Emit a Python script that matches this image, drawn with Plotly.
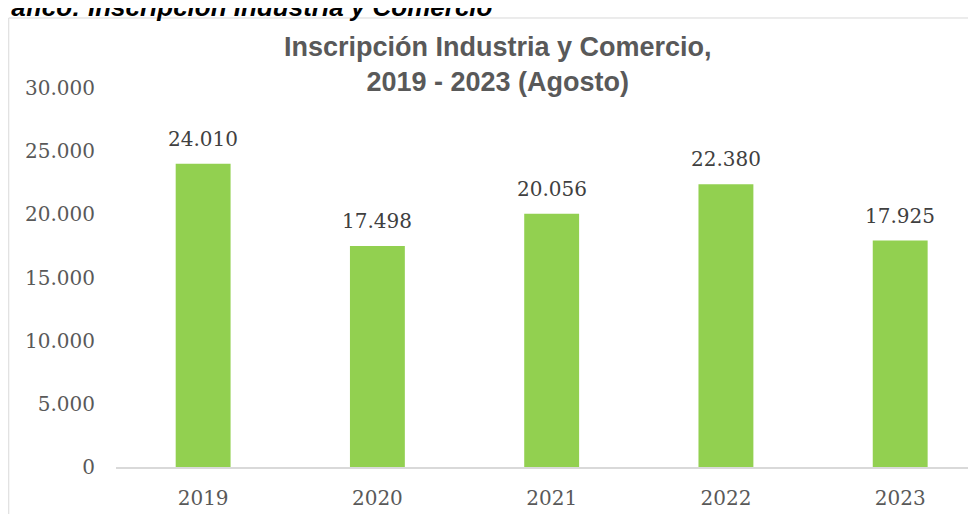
import plotly.graph_objects as go

years = ["2019", "2020", "2021", "2022", "2023"]
inscripciones = [24010, 17498, 20056, 22380, 17925]
y_ticks = [0, 5000, 10000, 15000, 20000, 25000, 30000]

fig = go.Figure()

fig.add_trace(go.Bar(
    x=years, y=inscripciones,
    marker=dict(color="#92D050", line=dict(width=0)),
    width=0.315,
    hoverinfo="skip",
))

# data labels above the bars (category index, so "2019" is not read as a number)
for i, val in enumerate(inscripciones):
    fig.add_annotation(
        x=i, y=val, xref="x", yref="y",
        text=f"{val:,}".replace(",", "."),
        showarrow=False, yanchor="bottom", yshift=11,
        font=dict(family="DejaVu Serif", size=20, color="#404040"),
    )

# caption above the chart box (cut off at the top of the picture)
fig.add_annotation(
    xref="paper", yref="paper", x=0.4407, y=1.170,
    xanchor="right", yanchor="bottom",
    text="<b><i>Gráfico: Inscripción Industria y Comercio</i></b>",
    showarrow=False,
    font=dict(family="Liberation Sans", size=26, color="#000000"),
)

# chart area border
fig.add_shape(
    type="rect", xref="paper", yref="paper",
    x0=-0.1247, y0=-0.5, x1=1.5, y1=1.1847,
    line=dict(color="#D9D9D9", width=1),
)

fig.update_layout(
    width=968, height=506,
    margin=dict(l=108, r=0, t=80, b=47),
    paper_bgcolor="white", plot_bgcolor="white",
    separators=",.",
    showlegend=False,
    title=dict(
        text="<b>Inscripción Industria y Comercio,<br>2019 - 2023 (Agosto)</b>",
        x=0.506, xanchor="center", xref="container",
        y=0.905, yanchor="top", yref="container",
        font=dict(family="Liberation Sans", size=27, color="#595959"),
    ),
    xaxis=dict(
        type="category",
        range=[-0.5, 4.435],
        showline=True, linecolor="#D9D9D9", linewidth=1.5,
        showgrid=False, ticks="", ticklabelstandoff=12,
        tickfont=dict(family="DejaVu Serif", size=20, color="#595959"),
    ),
    yaxis=dict(
        range=[0, 30000],
        tickvals=y_ticks, tickformat=",d",
        showgrid=False, zeroline=False, showline=False, ticks="",
        ticklabelstandoff=20,
        tickfont=dict(family="DejaVu Serif", size=20, color="#595959"),
    ),
)

fig.write_html("out.html")
